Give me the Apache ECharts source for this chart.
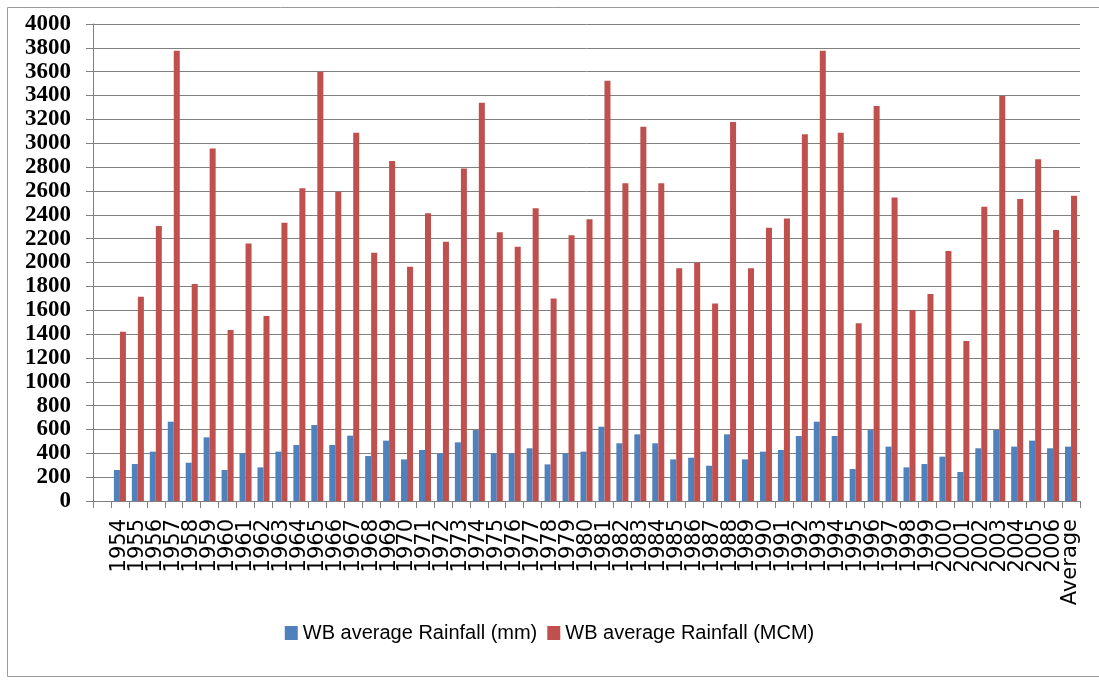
<!DOCTYPE html>
<html>
<head>
<meta charset="utf-8">
<script src="https://cdn.jsdelivr.net/npm/echarts@6/dist/echarts.min.js"></script>
<style>
html,body{margin:0;padding:0;background:#fff;}
#chart{width:1099px;height:681px;}
</style>
</head>
<body>
<div id="chart"></div>
<script>
const categories = ['', '1954','1955','1956','1957','1958','1959','1960','1961','1962','1963','1964','1965','1966','1967','1968','1969','1970','1971','1972','1973','1974','1975','1976','1977','1978','1979','1980','1981','1982','1983','1984','1985','1986','1987','1988','1989','1990','1991','1992','1993','1994','1995','1996','1997','1998','1999','2000','2001','2002','2003','2004','2005','2006','Average'];

const rainfallMM = [null,
  260,310,414,665,321,534,260,400,282,414,470,637,470,548,377,506,
  349,428,400,492,595,400,400,442,307,400,414,623,484,559,484,349,363,296,559,349,
  414,428,545,665,545,268,595,456,282,310,372,243,442,595,456,506,442,
  456];

const rainfallMCM = [null,
  1420,1713,2306,3776,1820,2957,1434,2160,1551,2334,2622,3600,2594,3088,2082,2851,
  1965,2412,2174,2789,3340,2253,2133,2454,1699,2228,2362,3525,2664,3139,2664,1951,1998,1657,3178,1951,
  2292,2370,3075,3776,3088,1490,3312,2546,1602,1736,2096,1342,2468,3396,2532,2865,2272,
  2560];

const seriesNames = ['WB average Rainfall (mm)', 'WB average Rainfall (MCM)'];
const yMin = 0, yMax = 4000, yStep = 200;

const chart = echarts.init(document.getElementById('chart'), null, {renderer: 'canvas'});
chart.setOption({
  animation: false,
  backgroundColor: '#ffffff',
  graphic: [{
    type: 'rect',
    shape: {x: 7.5, y: 7.5, width: 1100, height: 669},
    style: {fill: 'none', stroke: '#9a9a9a', lineWidth: 1},
    silent: true
  }],
  grid: {left: 93, right: 19, top: 24, bottom: 180, containLabel: false, outerBoundsMode: 'none'},
  legend: {
    bottom: 33,
    left: 'center',
    itemWidth: 13,
    itemHeight: 14,
    itemGap: 10,
    icon: 'rect',
    textStyle: {fontFamily: 'Liberation Sans', fontSize: 20, color: '#000'},
    data: seriesNames
  },
  xAxis: {
    type: 'category',
    data: categories,
    boundaryGap: true,
    axisLine: {lineStyle: {color: '#808080', width: 1}},
    axisTick: {show: true, length: 7, interval: 0, alignWithLabel: false, lineStyle: {color: '#808080'}},
    axisLabel: {interval: 0, rotate: 90, margin: 18, fontFamily: 'DejaVu Sans', fontSize: 21, color: '#000'}
  },
  yAxis: {
    type: 'value',
    min: yMin,
    max: yMax,
    interval: yStep,
    axisLine: {show: true, lineStyle: {color: '#808080', width: 1}},
    axisTick: {show: true, length: 7, lineStyle: {color: '#808080'}},
    splitLine: {show: true, lineStyle: {color: '#808080', width: 1}},
    axisLabel: {margin: 22, fontFamily: 'Liberation Serif', fontWeight: 'bold', fontSize: 23, color: '#000',
      formatter: function (v) { return String(v); }}
  },
  series: [
    {name: seriesNames[0], type: 'bar', data: rainfallMM, barGap: '0%', barCategoryGap: '33%', itemStyle: {color: '#4F81BD'}},
    {name: seriesNames[1], type: 'bar', data: rainfallMCM, barGap: '0%', barCategoryGap: '33%', itemStyle: {color: '#C0504D'}}
  ]
});
</script>
</body>
</html>
